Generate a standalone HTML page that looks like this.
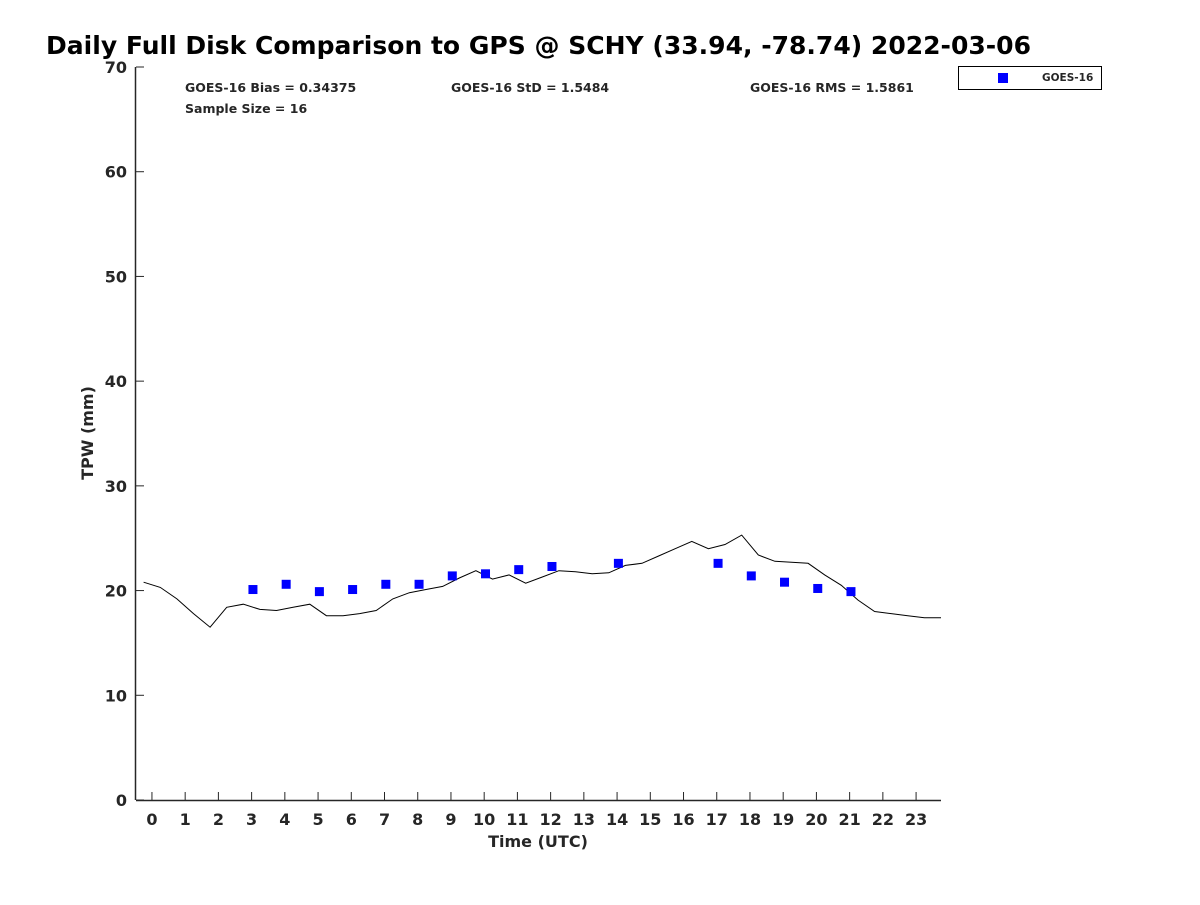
<!DOCTYPE html>
<html><head><meta charset="utf-8"><style>
body{margin:0;background:#fff;width:1200px;height:900px;overflow:hidden}
text{font-family:"DejaVu Sans","Liberation Sans",sans-serif;font-weight:bold;fill:#262626}
</style></head><body>
<svg id="chart" width="1200" height="900" xmlns="http://www.w3.org/2000/svg">
<text x="46" y="54" font-size="25" textLength="985" lengthAdjust="spacingAndGlyphs" style="fill:#000">Daily Full Disk Comparison to GPS @ SCHY (33.94, -78.74) 2022-03-06</text>
<g id="axes"></g>
<text x="185" y="92" font-size="12.5">GOES-16 Bias = 0.34375</text>
<text x="451" y="92" font-size="12.5">GOES-16 StD = 1.5484</text>
<text x="750" y="92" font-size="12.5">GOES-16 RMS = 1.5861</text>
<text x="185" y="113" font-size="12.5">Sample Size = 16</text>
<g>
<rect x="958.5" y="66.5" width="143" height="23" fill="#fff" stroke="#000" stroke-width="1"/>
<rect x="998" y="73" width="10" height="10" fill="#0000ff"/>
<text x="1042" y="81" font-size="10.5">GOES-16</text>
</g>
<text x="538" y="847" font-size="16" text-anchor="middle">Time (UTC)</text>
<text transform="translate(93,433) rotate(-90)" font-size="16" text-anchor="middle">TPW (mm)</text>
</svg>
<script>
const gpsTimes=[-0.25,0.25,0.75,1.25,1.75,2.25,2.75,3.25,3.75,4.25,4.75,5.25,5.75,6.25,6.75,7.25,7.75,8.25,8.75,9.25,9.75,10.25,10.75,11.25,11.75,12.25,12.75,13.25,13.75,14.25,14.75,15.25,15.75,16.25,16.75,17.25,17.75,18.25,18.75,19.25,19.75,20.25,20.75,21.25,21.75,22.25,22.75,23.25,23.75];
const gpsValues=[20.8,20.3,19.2,17.8,16.5,18.4,18.7,18.2,18.1,18.4,18.7,17.6,17.6,17.8,18.1,19.2,19.8,20.1,20.4,21.2,21.9,21.1,21.5,20.7,21.3,21.9,21.8,21.6,21.7,22.4,22.6,23.3,24.0,24.7,24.0,24.4,25.3,23.4,22.8,22.7,22.6,21.5,20.5,19.1,18.0,17.8,17.6,17.4,17.4];
const goesTimes=[3,4,5,6,7,8,9,10,11,12,14,17,18,19,20,21];
const goesValues=[20.1,20.6,19.9,20.1,20.6,20.6,21.4,21.6,22.0,22.3,22.6,22.6,21.4,20.8,20.2,19.9];
const xTicks=[0,1,2,3,4,5,6,7,8,9,10,11,12,13,14,15,16,17,18,19,20,21,22,23];
const yTicks=[0,10,20,30,40,50,60,70];
const NS='http://www.w3.org/2000/svg';
const L=136,R=941,T=67,B=800;
const xMin=-0.48,xMax=23.75,yMin=0,yMax=70;
const xs=v=>L+(v-xMin)/(xMax-xMin)*(R-L);
const ys=v=>B-(v-yMin)/(yMax-yMin)*(B-T);
const svg=document.getElementById('chart');
const axes=document.getElementById('axes');
function mk(tag,attrs,parent){const e=document.createElementNS(NS,tag);for(const k in attrs)e.setAttribute(k,attrs[k]);(parent||svg).appendChild(e);return e;}
const xl=mk('line',{x1:L,y1:B+0.5,x2:R,y2:B+0.5,stroke:'#262626','stroke-width':1.5},axes);


const yl=mk('line',{x1:L-0.5,y1:T,x2:L-0.5,y2:B,stroke:'#262626','stroke-width':1.5},axes);


xTicks.forEach(t=>{
  const x=xs(t);
  const tk=mk('line',{x1:x,y1:B,x2:x,y2:B-8,stroke:'#262626','stroke-width':1},axes);
  
  
  const lb=mk('text',{x:x,y:B+25,'font-size':16,'text-anchor':'middle'},axes);
  lb.textContent=t;
  
  
});
yTicks.forEach(t=>{
  const y=ys(t);
  const tk=mk('line',{x1:L,y1:y,x2:L+8,y2:y,stroke:'#262626','stroke-width':1},axes);
  
  
  const lb=mk('text',{x:L-9,y:y+6,'font-size':16,'text-anchor':'end'},axes);
  lb.textContent=t;
  
  
});
const pts=gpsTimes.map((t,i)=>xs(t).toFixed(1)+','+ys(gpsValues[i]).toFixed(1)).join(' ');
const line=mk('polyline',{points:pts,fill:'none',stroke:'#000','stroke-width':1});


goesTimes.forEach((t,i)=>{
  const r=mk('rect',{x:xs(t+0.04)-4.5,y:ys(goesValues[i])-4.5,width:9,height:9,fill:'#0000ff'});
  
  
});
</script>
</body></html>
